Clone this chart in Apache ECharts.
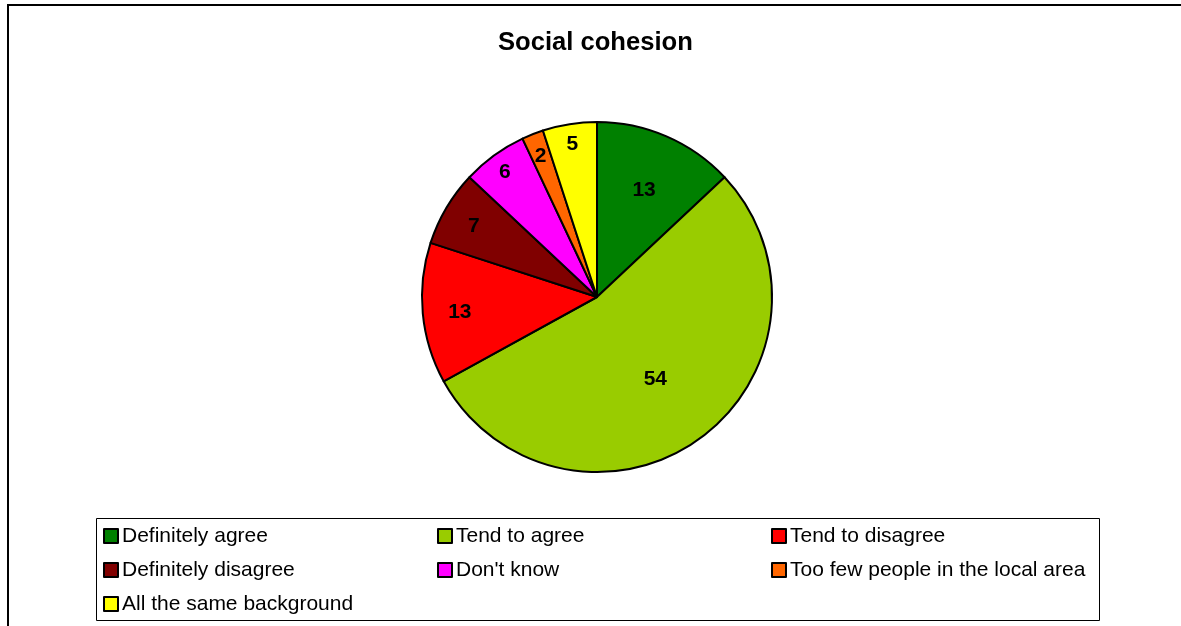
<!DOCTYPE html>
<html>
<head>
<meta charset="utf-8">
<title>Social cohesion</title>
<script src="https://cdn.jsdelivr.net/npm/echarts@6/dist/echarts.min.js"></script>
<style>
  html, body { margin: 0; padding: 0; background: #fff; }
  #chart { width: 1181px; height: 626px; }
</style>
</head>
<body>
<div id="chart"></div>
<script>
// Survey responses (percent)
const categories = [
  'Definitely agree',
  'Tend to agree',
  'Tend to disagree',
  'Definitely disagree',
  "Don't know",
  'Too few people in the local area',
  'All the same background'
];
const values = [13, 54, 13, 7, 6, 2, 5];
const sliceColors = ['#008000', '#99CC00', '#FF0000', '#800000', '#FF00FF', '#FF6600', '#FFFF00'];
// How far from the centre each value label sits, as a fraction of the radius
const labelRadiusFraction = [0.66, 0.55, 0.77, 0.80, 0.88, 0.86, 0.88];

// Legend columns
const legendCol1 = ['Definitely agree', 'Definitely disagree', 'All the same background'];
const legendCol2 = ['Tend to agree', "Don't know"];
const legendCol3 = ['Tend to disagree', 'Too few people in the local area'];

const FONT = '"Liberation Sans", Arial, sans-serif';
const R = 175;
const total = values.reduce((a, b) => a + b, 0);

// Shift each inside label along its slice's mid-angle
let cum = 0;
const pieData = categories.map((name, i) => {
  const mid = (cum + values[i] / 2) / total * 2 * Math.PI;
  cum += values[i];
  const shift = (labelRadiusFraction[i] - 0.5) * R;
  return {
    name: name,
    value: values[i],
    itemStyle: { color: sliceColors[i] },
    label: { offset: [shift * Math.sin(mid), -shift * Math.cos(mid) + 2] }
  };
});

const legendBase = {
  orient: 'vertical',
  top: 525,
  height: 100,
  padding: 0,
  itemWidth: 14,
  itemHeight: 14,
  itemGap: 12,
  icon: 'rect',
  selectedMode: false,
  textStyle: { fontFamily: FONT, fontSize: 21, color: '#000', lineHeight: 22, padding: [0, 0, 0, -1] }
};

const chart = echarts.init(document.getElementById('chart'), null, { renderer: 'canvas' });
chart.setOption({
  animation: false,
  backgroundColor: '#fff',
  title: {
    text: 'Social cohesion',
    left: 498,
    top: 30,
    padding: 0,
    textStyle: { fontFamily: FONT, fontSize: 25.6, fontWeight: 'bold', color: '#000' }
  },
  legend: [
    Object.assign({}, legendBase, { left: 103, data: legendCol1 }),
    Object.assign({}, legendBase, { left: 437, data: legendCol2 }),
    Object.assign({}, legendBase, { left: 771, data: legendCol3 })
  ],
  graphic: [
    {
      type: 'rect',
      shape: { x: 8, y: 5, width: 1200, height: 700 },
      style: { fill: 'none', stroke: '#000', lineWidth: 2 },
      silent: true
    },
    {
      type: 'rect',
      shape: { x: 96.5, y: 518.5, width: 1003, height: 102 },
      style: { fill: 'none', stroke: '#000', lineWidth: 1 },
      silent: true
    }
  ],
  series: [{
    type: 'pie',
    center: [597, 297],
    radius: [0, R],
    startAngle: 90,
    clockwise: true,
    avoidLabelOverlap: false,
    emphasis: { disabled: true },
    itemStyle: { borderColor: '#000', borderWidth: 2 },
    label: {
      show: true,
      position: 'inside',
      formatter: '{c}',
      fontFamily: FONT,
      fontSize: 21,
      fontWeight: 'bold',
      color: '#000'
    },
    labelLine: { show: false },
    data: pieData
  }]
});
</script>
</body>
</html>
